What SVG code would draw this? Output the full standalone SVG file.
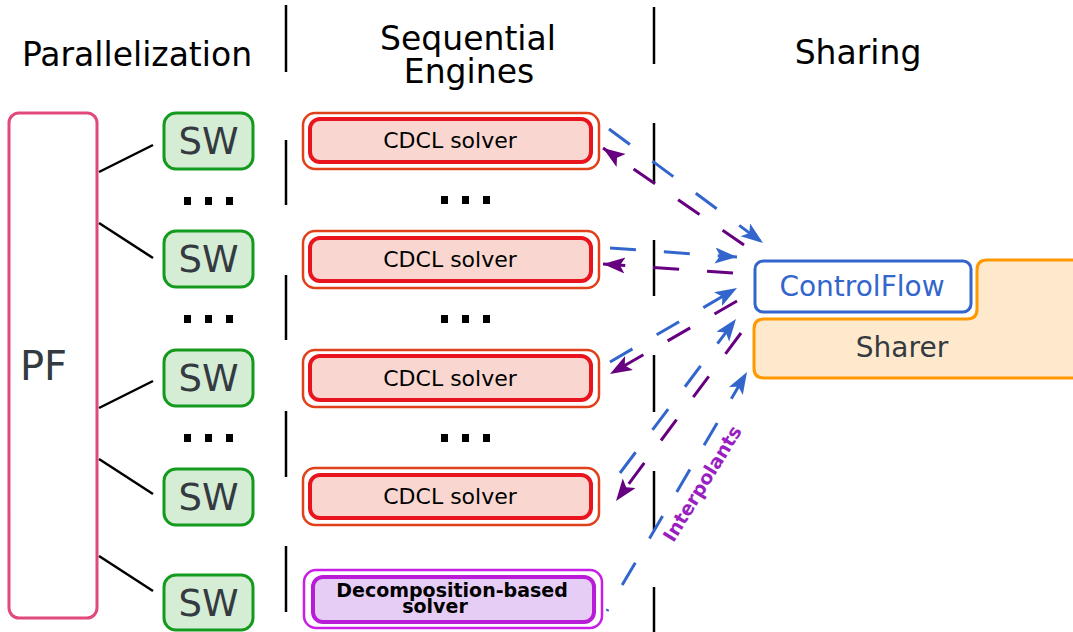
<svg xmlns="http://www.w3.org/2000/svg" width="1073" height="632" viewBox="0 0 1073 632">
<style>
text{font-family:"DejaVu Sans","Liberation Sans",sans-serif}
.hdr{font-size:33px;fill:#000;text-anchor:middle}
.sep{stroke:#000;stroke-width:2.5;fill:none}
.sw rect{fill:#d5ecd5;stroke:#149a1c;stroke-width:3}
.sw text{font-size:37px;fill:#333a40;text-anchor:middle}
.cdcl .o{fill:#fff;stroke:#e0401a;stroke-width:2.5}
.cdcl .i{fill:#f9d7d0;stroke:#e8141e;stroke-width:4}
.cdcl text{font-size:22px;fill:#000;text-anchor:middle}
.dots rect{fill:#000}
.link{stroke:#000;stroke-width:2.5}
.blue{stroke:#3366cc;stroke-width:3;fill:none;stroke-dasharray:26 28}
.purp{stroke:#660080;stroke-width:3;fill:none;stroke-dasharray:26 28}
</style>
<defs>
<marker id="ab" markerUnits="userSpaceOnUse" markerWidth="24" markerHeight="18" refX="22" refY="8" orient="auto" viewBox="0 0 24 18">
<path d="M0,0 L22,8 L0,16 L5,8 Z" fill="#3366cc"/>
</marker>
<marker id="ap" markerUnits="userSpaceOnUse" markerWidth="24" markerHeight="18" refX="22" refY="8" orient="auto" viewBox="0 0 24 18">
<path d="M0,0 L22,8 L0,16 L5,8 Z" fill="#660080"/>
</marker>
</defs>

<g id="headers">
<text class="hdr" x="137" y="66">Parallelization</text>
<text class="hdr" x="468" y="50">Sequential</text>
<text class="hdr" x="469" y="83">Engines</text>
<text class="hdr" x="858" y="64">Sharing</text>
</g>

<g id="separators">
<line class="sep" x1="286" y1="5" x2="286" y2="72"/>
<line class="sep" x1="654" y1="7" x2="654" y2="64"/>
<line class="sep" x1="286" y1="140" x2="286" y2="205"/>
<line class="sep" x1="286" y1="275" x2="286" y2="340"/>
<line class="sep" x1="286" y1="411" x2="286" y2="477"/>
<line class="sep" x1="286" y1="546" x2="286" y2="612"/>
<line class="sep" x1="654" y1="123" x2="654" y2="183"/>
<line class="sep" x1="654" y1="240" x2="654" y2="296"/>
<line class="sep" x1="654" y1="355" x2="654" y2="412"/>
<line class="sep" x1="654" y1="471" x2="654" y2="530"/>
<line class="sep" x1="654" y1="587" x2="654" y2="632"/>
</g>

<g id="pf">
<rect x="9" y="113" width="88" height="505" rx="10" fill="#fff" stroke="#e0487e" stroke-width="3"/>
<text x="20" y="380" style="font-size:40px;fill:#333a40">PF</text>
</g>

<g id="sw1" class="sw"><rect x="164" y="113" width="89" height="56" rx="12"/><text x="208.5" y="154">SW</text></g>
<g id="sw2" class="sw"><rect x="164" y="231" width="89" height="56" rx="12"/><text x="208.5" y="272">SW</text></g>
<g id="sw3" class="sw"><rect x="164" y="350" width="89" height="56" rx="12"/><text x="208.5" y="391">SW</text></g>
<g id="sw4" class="sw"><rect x="164" y="469" width="89" height="56" rx="12"/><text x="208.5" y="510">SW</text></g>
<g id="sw5" class="sw"><rect x="164" y="575" width="89" height="55" rx="12"/><text x="208.5" y="616">SW</text></g>

<g id="dots" class="dots">
<rect x="184" y="197" width="7" height="8"/><rect x="205" y="197" width="7" height="8"/><rect x="226" y="197" width="7" height="8"/>
<rect x="184" y="315" width="7" height="8"/><rect x="205" y="315" width="7" height="8"/><rect x="226" y="315" width="7" height="8"/>
<rect x="184" y="434" width="7" height="8"/><rect x="205" y="434" width="7" height="8"/><rect x="226" y="434" width="7" height="8"/>
<rect x="441" y="196" width="7" height="8"/><rect x="462" y="196" width="7" height="8"/><rect x="483" y="196" width="7" height="8"/>
<rect x="441" y="315" width="7" height="8"/><rect x="462" y="315" width="7" height="8"/><rect x="483" y="315" width="7" height="8"/>
<rect x="441" y="434" width="7" height="8"/><rect x="462" y="434" width="7" height="8"/><rect x="483" y="434" width="7" height="8"/>
</g>

<g id="cdcl1" class="cdcl"><rect class="o" x="303" y="113" width="296" height="56" rx="12"/><rect class="i" x="310" y="119" width="281" height="43" rx="10"/><text x="450" y="148">CDCL solver</text></g>
<g id="cdcl2" class="cdcl"><rect class="o" x="303" y="231" width="296" height="57" rx="12"/><rect class="i" x="310" y="238" width="281" height="43" rx="10"/><text x="450" y="267">CDCL solver</text></g>
<g id="cdcl3" class="cdcl"><rect class="o" x="303" y="350" width="296" height="57" rx="12"/><rect class="i" x="310" y="356" width="281" height="44" rx="10"/><text x="450" y="386">CDCL solver</text></g>
<g id="cdcl4" class="cdcl"><rect class="o" x="303" y="468" width="296" height="57" rx="12"/><rect class="i" x="310" y="475" width="281" height="43" rx="10"/><text x="450" y="504">CDCL solver</text></g>

<g id="decomp">
<rect x="304" y="570" width="298" height="58" rx="12" fill="#fff" stroke="#c81ee6" stroke-width="2.5"/>
<rect x="313" y="577" width="281" height="45" rx="10" fill="#e6cdf5" stroke="#b81cd6" stroke-width="4"/>
<text x="452" y="597" style="font-size:19px;font-weight:bold;fill:#000;text-anchor:middle">Decomposition-based</text>
<text x="435" y="613" style="font-size:19px;font-weight:bold;fill:#000;text-anchor:middle">solver</text>
</g>

<g id="sharer">
<path d="M764,319 L967,319 Q977,319 977,309 L977,270 Q977,260 987,260 L1080,260 L1080,378 L764,378 Q754,378 754,368 L754,329 Q754,319 764,319 Z" fill="#ffe9cc" stroke="#ff9900" stroke-width="3"/>
<text x="902" y="357" style="font-size:28px;fill:#333a40;text-anchor:middle">Sharer</text>
</g>

<g id="controlflow">
<rect x="755" y="261" width="216" height="51" rx="8" fill="#fff" stroke="#3366cc" stroke-width="3"/>
<text x="862" y="296" style="font-size:28px;fill:#3366cc;text-anchor:middle">ControlFlow</text>
</g>

<g id="connectors">
<line class="link" x1="99" y1="172" x2="153" y2="145"/>
<line class="link" x1="99" y1="223" x2="153" y2="258"/>
<line class="link" x1="99" y1="408" x2="153" y2="381"/>
<line class="link" x1="99" y1="459" x2="153" y2="494"/>
<line class="link" x1="99" y1="556" x2="153" y2="591"/>

<path class="blue" d="M609,129 L763,243" marker-end="url(#ab)"/>
<path class="purp" d="M744,245 L603,148" marker-end="url(#ap)"/>
<path class="blue" d="M610,248 L737,257" marker-end="url(#ab)"/>
<path class="purp" d="M733,273 L603,264" marker-end="url(#ap)"/>
<path class="blue" d="M610,362 L737,288" marker-end="url(#ab)"/>
<path class="purp" d="M737,301 L610,374" marker-end="url(#ap)"/>
<path class="blue" d="M620,473 L736,319" marker-end="url(#ab)"/>
<path class="purp" d="M741,333 L616,501" marker-end="url(#ap)"/>
<path class="blue" d="M607,611 L747,372" style="stroke-dashoffset:24" marker-end="url(#ab)"/>
<text x="708" y="487" transform="rotate(-58.5 708 487)" style="font-size:19px;font-weight:bold;fill:#9a1fc0;text-anchor:middle">Interpolants</text>
</g>
</svg>
